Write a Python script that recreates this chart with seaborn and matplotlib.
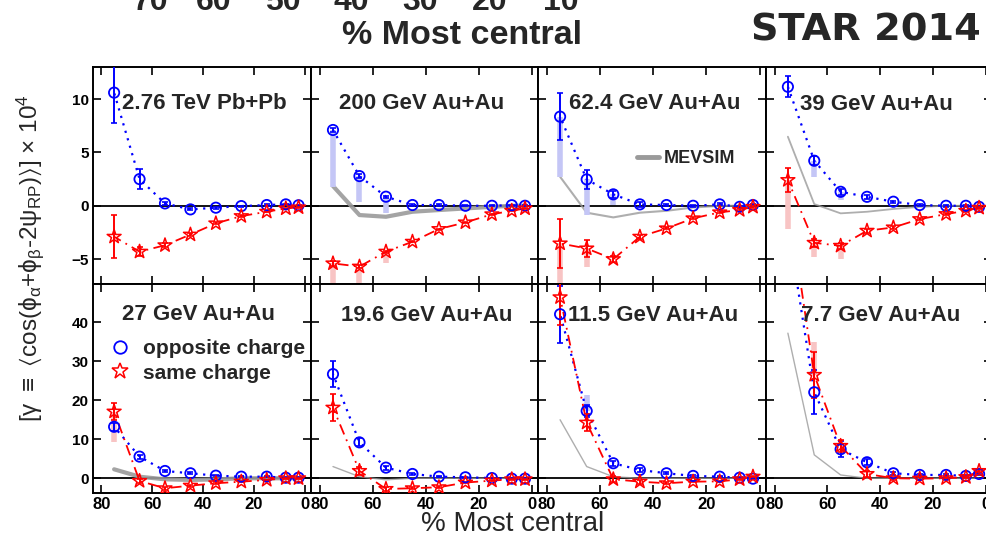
import numpy as np
import seaborn as sns
import matplotlib.pyplot as plt
from matplotlib.lines import Line2D

# centrality bin centres (% most central)
cent = [75, 65, 55, 45, 35, 25, 15, 7.5, 2.5]

titles = ['2.76 TeV Pb+Pb', '200 GeV Au+Au', '62.4 GeV Au+Au', '39 GeV Au+Au',
          '27 GeV Au+Au', '19.6 GeV Au+Au', '11.5 GeV Au+Au', '7.7 GeV Au+Au']

nan = np.nan

# gamma x 10^4, opposite / same charge, stat errors, end of systematic band, MEVSIM
opp_2760 = [10.6, 2.5, 0.22, -0.34, -0.18, -0.03, 0.07, 0.13, 0.05]
opp_2760_err = [2.8, 0.9, 0.15, 0.1, 0.1, 0.05, 0.05, 0.05, 0.05]
same_2760 = [-2.9, -4.3, -3.7, -2.7, -1.65, -0.97, -0.56, -0.25, -0.15]
same_2760_err = [2.0, 0.4, 0.2, 0.15, 0.1, 0.1, 0.05, 0.05, 0.05]

opp_200 = [7.1, 2.78, 0.85, 0.07, 0.07, 0.0, 0.0, 0.05, 0.0]
opp_200_err = [0.2, 0.15, 0.1, 0.05, 0.05, 0.05, 0.05, 0.05, 0.05]
opp_200_sys = [1.8, 0.38, -0.65, nan, nan, nan, nan, nan, nan]
same_200 = [-5.4, -5.7, -4.3, -3.37, -2.18, -1.56, -0.8, -0.47, -0.25]
same_200_err = [0.2, 0.15, 0.1, 0.05, 0.05, 0.05, 0.05, 0.05, 0.05]
same_200_sys = [-8.5, -7.2, -5.4, nan, nan, nan, nan, nan, nan]
mev_200 = [1.85, -0.87, -1.03, -0.56, -0.4, -0.25, -0.1, 0.0, 0.0]

opp_624 = [8.35, 2.47, 1.07, 0.13, 0.07, 0.0, 0.13, -0.1, 0.07]
opp_624_err = [2.2, 0.9, 0.3, 0.2, 0.1, 0.1, 0.1, 0.1, 0.1]
opp_624_sys = [2.66, -0.87, 0.1, nan, nan, nan, nan, nan, nan]
same_624 = [-3.53, -4.0, -5.0, -2.9, -2.12, -1.18, -0.62, -0.4, -0.1]
same_624_err = [2.27, 0.8, 0.3, 0.2, 0.1, 0.1, 0.1, 0.1, 0.1]
same_624_sys = [-8.0, -5.7, nan, nan, nan, nan, nan, nan, nan]
mev_624 = [2.72, -0.65, -1.09, -0.65, -0.47, -0.16, 0.0, 0.0, 0.0]

opp_39 = [11.15, 4.22, 1.31, 0.84, 0.38, 0.07, 0.0, 0.0, -0.1]
opp_39_err = [1.0, 0.4, 0.3, 0.2, 0.1, 0.1, 0.1, 0.1, 0.1]
opp_39_sys = [nan, 2.66, 0.53, nan, nan, nan, nan, nan, nan]
same_39 = [2.41, -3.47, -3.75, -2.34, -2.03, -1.25, -0.78, -0.47, -0.19]
same_39_err = [1.1, 0.4, 0.3, 0.2, 0.1, 0.1, 0.1, 0.1, 0.1]
same_39_sys = [-2.2, -4.84, -5.0, nan, nan, nan, nan, nan, nan]
mev_39 = [6.47, 0.16, -0.71, -0.56, -0.3, -0.1, 0.0, 0.0, 0.0]

opp_27 = [13.2, 5.55, 1.87, 1.28, 0.67, 0.41, 0.41, 0.15, 0.15]
opp_27_err = [1.0, 0.5, 0.3, 0.2, 0.2, 0.1, 0.1, 0.1, 0.1]
same_27 = [17.1, -0.69, -2.56, -1.9, -1.28, -0.87, -0.43, 0.0, 0.0]
same_27_err = [2.1, 0.6, 0.4, 0.3, 0.2, 0.2, 0.1, 0.1, 0.1]
same_27_sys = [9.4, nan, nan, nan, nan, nan, nan, nan, nan]
mev_27 = [2.3, 0.4, -0.27, -0.43, -0.3, 0.0, 0.0, 0.0, 0.0]

opp_196 = [26.7, 9.2, 2.73, 1.1, 0.41, 0.25, 0.05, -0.1, -0.1]
opp_196_err = [3.4, 1.0, 0.5, 0.3, 0.2, 0.2, 0.1, 0.1, 0.1]
same_196 = [18.1, 1.87, -2.74, -2.56, -2.3, -1.1, -0.6, -0.26, -0.26]
same_196_err = [3.4, 1.0, 0.5, 0.3, 0.2, 0.2, 0.1, 0.1, 0.1]
mev_196 = [3.0, 0.4, -0.4, 0.0, 0.0, 0.0, 0.0, 0.0, 0.0]

opp_115 = [42.05, 17.26, 3.85, 2.13, 1.28, 0.6, 0.41, 0.15, -0.1]
opp_115_err = [7.3, 1.5, 0.7, 0.5, 0.3, 0.2, 0.2, 0.1, 0.1]
opp_115_sys = [nan, 21.4, nan, nan, nan, nan, nan, nan, nan]
same_115 = [46.4, 14.26, -0.26, -0.87, -1.28, -0.87, -0.8, -0.26, 0.41]
same_115_err = [7.0, 2.2, 0.8, 0.5, 0.3, 0.2, 0.2, 0.1, 0.1]
mev_115 = [15.0, 3.0, 0.4, 0.0, 0.0, 0.0, 0.0, 0.0, 0.0]

opp_77 = [65.0, 22.05, 7.44, 4.1, 1.28, 0.85, 0.85, 0.6, 1.1]
opp_77_err = [8.0, 5.6, 2.0, 0.8, 0.4, 0.3, 0.3, 0.2, 0.2]
same_77 = [72.0, 26.5, 8.3, 1.1, 0.0, -0.1, 0.0, 0.3, 1.87]
same_77_err = [8.0, 5.8, 1.5, 0.8, 0.4, 0.3, 0.3, 0.2, 0.2]
same_77_sys = [nan, 35.0, nan, nan, nan, nan, nan, nan, nan]
mev_77 = [37.2, 6.0, 0.85, 0.0, 0.0, 0.0, 0.0, 0.0, 0.0]

none9 = [nan] * 9
panels = [
    (opp_2760, opp_2760_err, none9, same_2760, same_2760_err, none9, None, 0),
    (opp_200, opp_200_err, opp_200_sys, same_200, same_200_err, same_200_sys, mev_200, 3.0),
    (opp_624, opp_624_err, opp_624_sys, same_624, same_624_err, same_624_sys, mev_624, 1.5),
    (opp_39, opp_39_err, opp_39_sys, same_39, same_39_err, same_39_sys, mev_39, 1.3),
    (opp_27, opp_27_err, none9, same_27, same_27_err, same_27_sys, mev_27, 3.0),
    (opp_196, opp_196_err, none9, same_196, same_196_err, none9, mev_196, 1.0),
    (opp_115, opp_115_err, opp_115_sys, same_115, same_115_err, none9, mev_115, 1.0),
    (opp_77, opp_77_err, none9, same_77, same_77_err, same_77_sys, mev_77, 1.0),
]

sns.set_theme(style='ticks')
plt.rcParams['font.family'] = ['Liberation Sans', 'DejaVu Sans']
plt.rcParams['mathtext.default'] = 'regular'

W, H = 987, 540
fig = plt.figure(figsize=(W / 100, H / 100), dpi=100)

cols = [(93, 311), (311, 538), (538, 766), (766, 992)]
rows = [(66.7, 284), (284, 492.7)]
ylims = [(-7.33, 13.03), (-3.7, 49.8)]
yticks = [[-5, 0, 5, 10], [0, 10, 20, 30, 40]]
title_pos = [(0.132, 0.83), (0.124, 0.83), (0.134, 0.83), (0.15, 0.826),
             (0.132, 0.855), (0.132, 0.847), (0.130, 0.847), (0.155, 0.847)]

blue = '#0000ff'
red = '#ff0000'
grey = '#9a9a9a'

axes = []
for i in range(8):
    r, c = divmod(i, 4)
    x0, x1 = cols[c]
    y0, y1 = rows[r]
    ax = fig.add_axes([x0 / W, 1 - y1 / H, (x1 - x0) / W, (y1 - y0) / H])
    axes.append(ax)
    opp, opp_err, opp_sys, same, same_err, same_sys, mev, mev_lw = panels[i]

    ax.axhline(0, color='black', lw=1.3, zorder=1)
    if mev is not None:
        sns.lineplot(x=cent, y=mev, ax=ax, color=grey, lw=mev_lw, zorder=2,
                     alpha=0.9 if mev_lw > 2 else 0.8)

    # systematic bands
    for x, y, s in zip(cent, opp, opp_sys):
        if not np.isnan(s):
            ax.vlines(x, y, s, color='#c4c6f6', lw=4, zorder=2)
    for x, y, s in zip(cent, same, same_sys):
        if not np.isnan(s):
            ax.vlines(x, y, s, color='#f8c4c4', lw=4, zorder=2)

    sns.lineplot(x=cent, y=opp, ax=ax, color=blue, lw=1.6, linestyle=(0, (1, 2.5)), zorder=3)
    sns.lineplot(x=cent, y=same, ax=ax, color=red, lw=1.3, linestyle=(0, (6, 3, 1, 3)), zorder=3)

    ax.errorbar(cent, opp, yerr=opp_err, fmt='none', ecolor=blue, elinewidth=1.4,
                capsize=2, capthick=1.2, zorder=4)
    ax.errorbar(cent, same, yerr=same_err, fmt='none', ecolor=red, elinewidth=1.4,
                capsize=2, capthick=1.2, zorder=4)
    sns.scatterplot(x=cent, y=opp, ax=ax, marker='o', s=55, facecolors='none',
                    edgecolors=blue, linewidth=1.3, zorder=5)
    sns.scatterplot(x=cent, y=same, ax=ax, marker='*', s=110, facecolors='none',
                    edgecolors=red, linewidth=1.1, zorder=5)

    ax.set_xlim(83.3, -2.4)
    ax.set_ylim(*ylims[r])
    ax.set_xticks([80, 60, 40, 20, 0])
    ax.set_yticks(yticks[r])
    ax.tick_params(direction='in', top=True, right=True, length=5.5, width=1.2,
                   labelsize=12, pad=3, colors='black')
    for sp in ax.spines.values():
        sp.set_color('black')
        sp.set_linewidth(1.4)
    if r == 0:
        ax.set_xticklabels([])
    else:
        for lab in ax.get_xticklabels():
            lab.set_fontweight('bold')
    if c != 0:
        ax.set_yticklabels([])
    else:
        for lab in ax.get_yticklabels():
            lab.set_fontweight('bold')
            lab.set_fontsize(11)
    ax.set_xlabel('')
    ax.set_ylabel('')

    tx, ty = title_pos[i]
    ax.text(tx, ty, titles[i], transform=ax.transAxes, ha='left', va='center',
            fontsize=16, fontweight='bold', zorder=6)

# legends
h_opp = Line2D([], [], marker='o', ls='none', mfc='none', mec=blue, mew=1.3, ms=9)
h_same = Line2D([], [], marker='*', ls='none', mfc='none', mec=red, mew=1.1, ms=12)
axes[4].legend([h_opp, h_same], ['opposite charge', 'same charge'], loc='upper left',
               bbox_to_anchor=(0.0765, 0.737), frameon=False, borderpad=0, borderaxespad=0,
               handlelength=1.0, handletextpad=0.6, labelspacing=0.27,
               prop={'size': 15, 'weight': 'bold'})
h_mev = Line2D([], [], color=grey, lw=3.5)
axes[2].legend([h_mev], ['MEVSIM'], loc='center left', bbox_to_anchor=(0.434, 0.578),
               frameon=False, borderpad=0, borderaxespad=0, handlelength=1.2,
               handletextpad=0.3, prop={'size': 13, 'weight': 'bold'})

ylab = (r'[$\gamma$ $\equiv$ $\langle$cos($\phi_{\alpha}$+$\phi_{\beta}$-2$\psi_{RP}$)$\rangle$]'
        r' $\times$ 10$^{4}$')
fig.text(30 / W, 1 - 258 / H, ylab, rotation=90, ha='center', va='center', fontsize=17.5)
fig.text(513 / W, 1 - 524 / H, '% Most central', ha='center', va='center', fontsize=20)

# header strip from the upper figure
narrow = ['Liberation Sans Narrow', 'Liberation Sans']
for lab, xp in zip(['70', '60', '50', '40', '30', '20', '10'],
                   [150, 214, 283, 351, 420, 490, 561]):
    fig.text(xp / W, 1 - 10 / H, lab, ha='center', va='baseline', fontsize=23,
             fontweight='bold', family=narrow)
fig.text(462 / W, 1 - 35 / H, '% Most central', ha='center', va='center', fontsize=24.5,
         fontweight='bold', family=narrow)
fig.text(866 / W, 1 - 31 / H, 'STAR 2014', ha='center', va='center', fontsize=27.5,
         fontweight='bold', family=['DejaVu Sans'])

fig.savefig('out.png', dpi=100)
